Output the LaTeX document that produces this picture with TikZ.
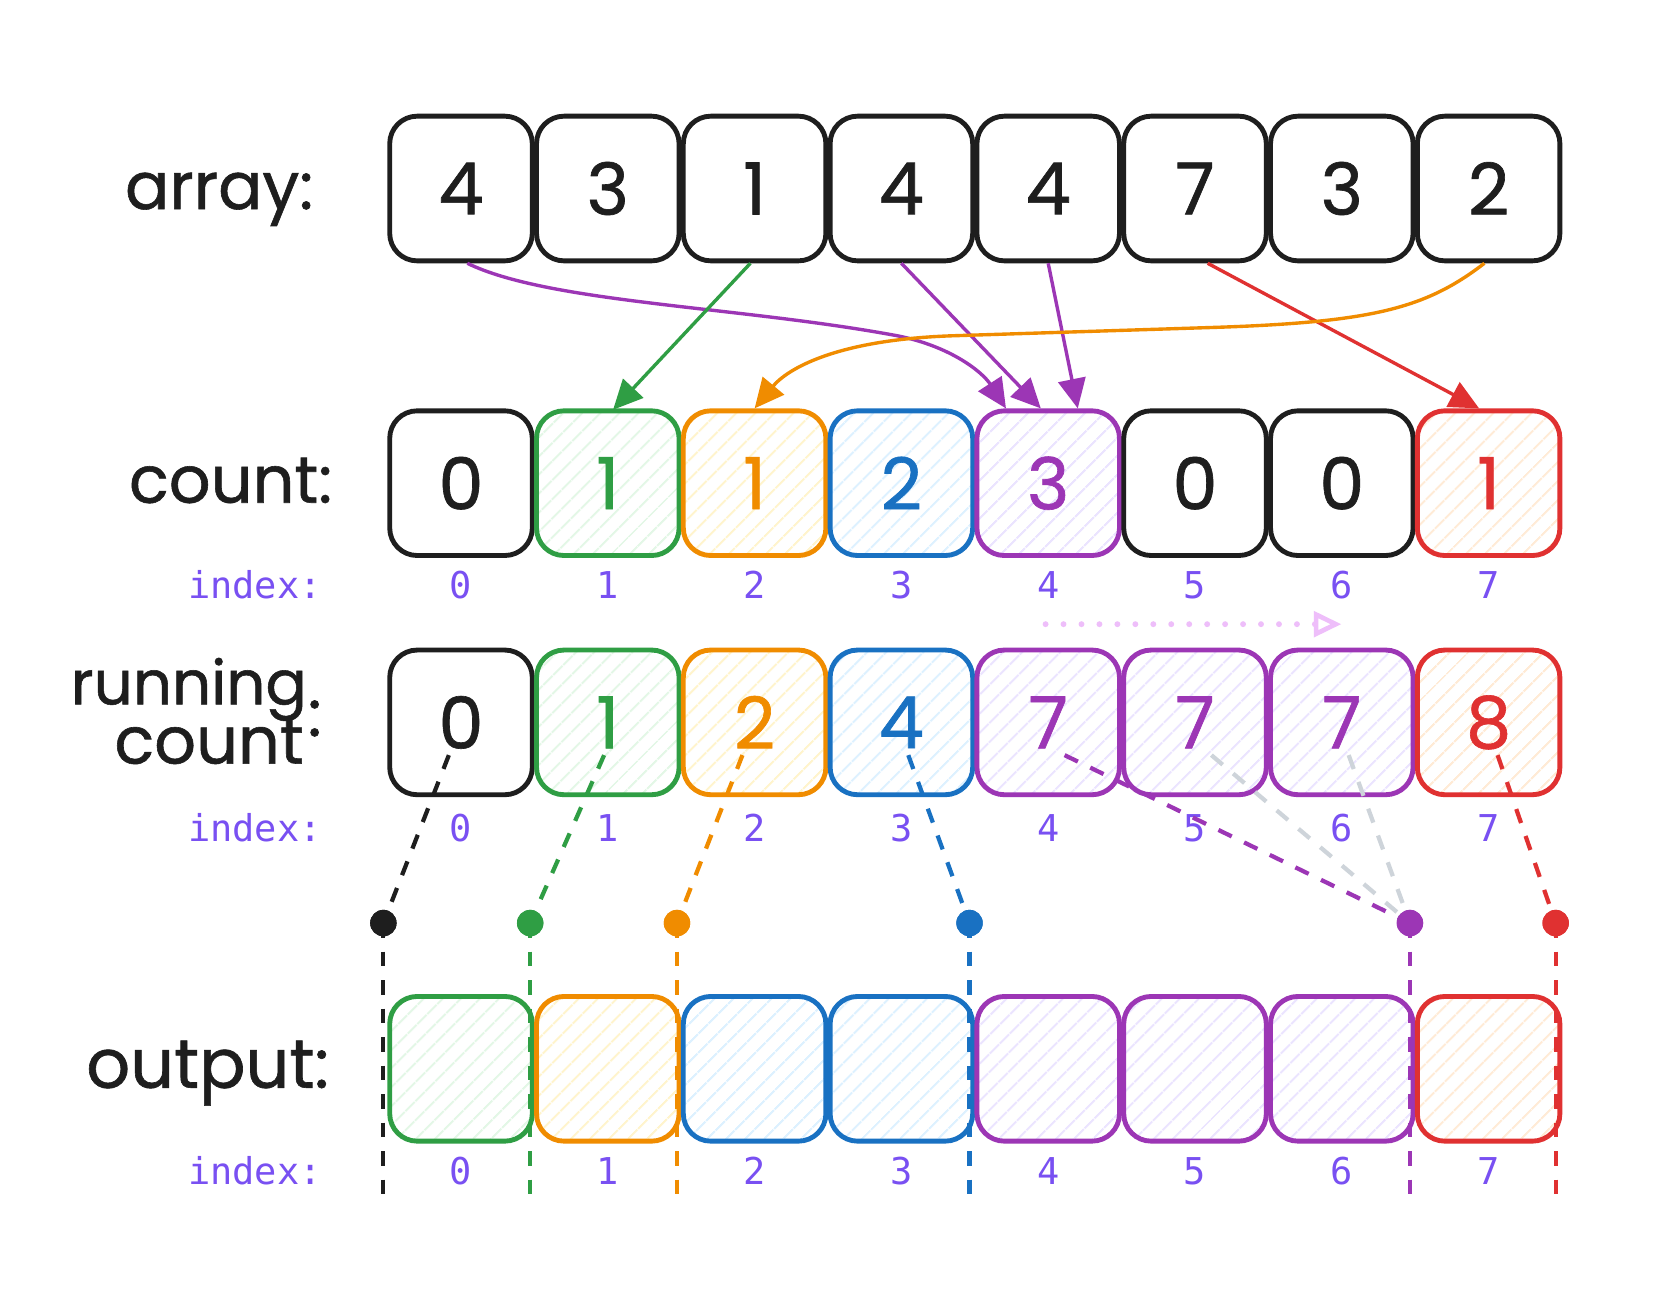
\documentclass[tikz,border=0pt]{standalone}
\usepackage{fontspec}
\setmainfont{Poppins}
\newfontfamily\handfont[FakeBold=0.9]{Poppins}
\newfontfamily\monofont{DejaVu Sans Mono}
\usetikzlibrary{arrows.meta,patterns.meta}
\definecolor{ink}{HTML}{1E1E1E}
\definecolor{gS}{HTML}{2F9E44}
\definecolor{oS}{HTML}{F08C00}
\definecolor{bS}{HTML}{1971C2}
\definecolor{pS}{HTML}{9C36B5}
\definecolor{rS}{HTML}{E03131}
\definecolor{gF}{HTML}{E3F7E6}
\definecolor{oF}{HTML}{FFF4CC}
\definecolor{bF}{HTML}{DDF1FF}
\definecolor{pF}{HTML}{EBE4FF}
\definecolor{rF}{HTML}{FFEBD6}
\definecolor{idxC}{HTML}{7950F2}
\definecolor{greyL}{HTML}{CED4DA}
\definecolor{pinkL}{HTML}{EEBEFA}
\begin{document}
\begin{tikzpicture}[x=0.5pt,y=-0.5pt,
  cell/.style={line width=2.3pt, rounded corners=13pt, minimum width=67.5pt, minimum height=68.5pt, inner sep=0pt, font=\handfont\fontsize{34}{34}\selectfont},
  hatch/.style={pattern={Lines[angle=45,distance=6.5pt,line width=1pt]}, pattern color=#1},
  kbox/.style={cell, draw=ink, text=ink, fill=white},
  gbox/.style={cell, draw=gS, text=gS, hatch=gF},
  obox/.style={cell, draw=oS, text=oS, hatch=oF},
  bbox/.style={cell, draw=bS, text=bS, hatch=bF},
  pbox/.style={cell, draw=pS, text=pS, hatch=pF},
  rbox/.style={cell, draw=rS, text=rS, hatch=rF},
  lbl/.style={anchor=base east, inner sep=0pt, text=ink, font=\handfont\fontsize{31}{31}\selectfont},
  idx/.style={anchor=base, inner sep=0pt, text=idxC, font=\monofont\fontsize{17.5}{17.5}\selectfont},
  idxl/.style={idx, anchor=base east},
  arr/.style={draw=#1, line width=1.6pt, -{Triangle[length=14pt,width=13pt]}},
  dsh/.style={draw=#1, line width=2pt, dash pattern=on 7pt off 6.5pt},
  dotnode/.style={circle, fill=#1, minimum size=12.5pt, inner sep=0pt},
]
\fill[white] (0,0) rectangle (1568,1230);
\useasboundingbox (0,0) rectangle (1568,1230);

% labels
\node[lbl] (larr) at (297,198) {array:};
\node[lbl] (lcnt) at (315,476) {count:};
\node[lbl, font=\handfont\fontsize{29}{29}\selectfont] (lrun1) at (291,667) {running};
\node[lbl] (lrun2) at (288,723) {count};
\node[lbl] (lrunc) at (305,697) {:};
\node[lbl, font=\handfont\fontsize{32.5}{32.5}\selectfont] (lout) at (312,1030) {output:};

% array row
\foreach \v [count=\i from 0] in {4,3,1,4,4,7,3,2}
  \node[kbox] (a\i) at ({436.5+139*\i},178.5) {\v};

% count row
\foreach \v/\s [count=\i from 0] in {0/kbox,1/gbox,1/obox,2/bbox,3/pbox,0/kbox,0/kbox,1/rbox}
  \node[\s] (c\i) at ({436.5+139*\i},457.5) {\v};

% running count row
\foreach \v/\s [count=\i from 0] in {0/kbox,1/gbox,2/obox,4/bbox,7/pbox,7/pbox,7/pbox,8/rbox}
  \node[\s] (r\i) at ({436.5+139*\i},684) {\v};

% output row
\foreach \s [count=\i from 0] in {gbox,obox,bbox,bbox,pbox,pbox,pbox,rbox}
  \node[\s] (o\i) at ({436.5+139*\i},1012) {};

% index rows
\foreach \y/\n in {567/p,797/q,1122/u} {
  \node[idxl] (l\n) at (305,\y) {index:};
  \foreach \i in {0,...,7}
    \node[idx] (\n\i) at ({436.5+139*\i},\y) {\i};
}

% arrows array -> count
\draw[arr=pS] ([xshift=3pt]a0.south) .. controls (520,287) and (700,290) .. (850,318)
  .. controls (900,328) and (930,352) .. ([xshift=-20pt]c4.north);
\draw[arr=gS] ([xshift=-2pt]a2.south) -- ([xshift=2.5pt]c1.north);
\draw[arr=pS] (a3.south) -- ([xshift=-3.5pt]c4.north);
\draw[arr=pS] (a4.south) -- ([xshift=14pt]c4.north);
\draw[arr=rS] ([xshift=6pt]a5.south) -- ([xshift=-4.5pt]c7.north);
\draw[arr=oS] ([xshift=-2pt]a7.south) .. controls (1350,292) and (1300,305) .. (1150,310)
  -- (900,318) .. controls (790,322) and (745,350) .. (c2.north);

% dotted shift arrow
\coordinate (da) at (990,591);
\coordinate (db) at (1270,591);
\draw[pinkL, line width=2.8pt, line cap=round, dash pattern=on 0pt off 8.5pt,
  -{Triangle[open,length=13pt,width=12pt,line width=2.2pt]}] (da) -- (db);

% dots and their connectors
\foreach \n/\x in {0/363,1/502,2/641,3/918,4/1335,5/1473}
  \coordinate (e\n) at (\x,1137);
\coordinate (t0) at (425,715);
\coordinate (t1) at (572,715);
\coordinate (t2) at (703,715);
\coordinate (t3) at (860,715);
\coordinate (t4) at (1008,715);
\coordinate (t5) at (1418,715);
\coordinate (t6) at (1147,715);
\coordinate (t7) at (1277,715);

\foreach \n/\x/\c in {0/363/ink,1/502/gS,2/641/oS,3/918/bS,4/1335/pS,5/1473/rS}
  \node[dotnode=\c] (d\n) at (\x,874) {};

\draw[dsh=greyL] (t6) -- (d4.center);
\draw[dsh=greyL] (t7) -- (d4.center);
\foreach \n/\c in {0/ink,1/gS,2/oS,3/bS,4/pS,5/rS} {
  \draw[dsh=\c] (t\n) -- (d\n.center);
  \draw[dsh=\c] (d\n.center) -- (e\n);
}
\foreach \n/\c in {0/ink,1/gS,2/oS,3/bS,4/pS,5/rS}
  \fill[\c] (d\n) circle (6.25pt);
\end{tikzpicture}
\end{document}
